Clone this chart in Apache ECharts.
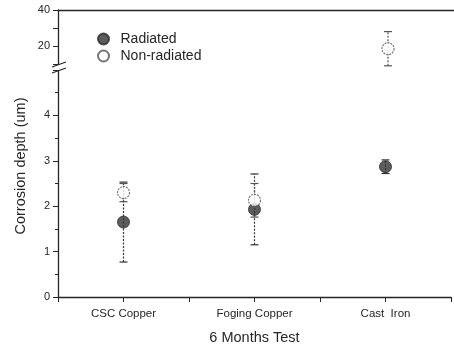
<!DOCTYPE html>
<html>
<head>
<meta charset="utf-8">
<script src="https://cdn.jsdelivr.net/npm/echarts@6/dist/echarts.min.js"></script>
<style>
  html, body { margin: 0; padding: 0; background: #fff; }
  #chart { width: 454px; height: 350px; }
</style>
</head>
<body>
<div id="chart"></div>
<script>
const categories = ['CSC Copper', 'Foging Copper', 'Cast  Iron']
const radiatedMean = [1.65, 1.93, 2.87]
const radiatedErr = [0.88, 0.78, 0.15]
const nonRadMean = [2.3, 2.13, 18.5]
const nonRadErr = [0.2, 0.37, 9.5]
const lowTicks = [0, 1, 2, 3, 4]
const highTicks = [20, 40]
const breakAt = 5

const font = 'Liberation Sans, Arial, sans-serif'
const ink = '#262626'

// split points between the lower (0-5) and upper (10-40) panels
function split(means, errs) {
  const low = [], high = []
  means.forEach((m, i) => {
    const row = [i + 1, m, m - errs[i], m + errs[i]]
    if (m > breakAt) high.push(row)
    else low.push(row)
  })
  return { low, high }
}

const rad = split(radiatedMean, radiatedErr)
const non = split(nonRadMean, nonRadErr)

function errorBars(dashed, color) {
  return (params, api) => {
    const x = api.value(0)
    const lo = api.coord([x, api.value(2)])
    const hi = api.coord([x, api.value(3)])
    const w = 4
    const style = { stroke: color, lineWidth: 1.2 }
    return {
      type: 'group',
      children: [
        { type: 'line', shape: { x1: lo[0], y1: lo[1], x2: hi[0], y2: hi[1] },
          style: Object.assign({}, style, { lineDash: dashed ? [2, 1.5] : null }) },
        { type: 'line', shape: { x1: lo[0] - w, y1: lo[1], x2: lo[0] + w, y2: lo[1] }, style },
        { type: 'line', shape: { x1: hi[0] - w, y1: hi[1], x2: hi[0] + w, y2: hi[1] }, style },
      ],
    }
  }
}

function panelSeries(idx, radData, nonData) {
  return [
    {
      type: 'custom', xAxisIndex: idx, yAxisIndex: idx, clip: false, silent: true,
      renderItem: errorBars(true, '#333'), data: radData, z: 1,
    },
    {
      type: 'custom', xAxisIndex: idx, yAxisIndex: idx, clip: false, silent: true,
      renderItem: errorBars(true, '#555'), data: nonData, z: 1,
    },
    {
      name: 'Radiated', type: 'scatter', xAxisIndex: idx, yAxisIndex: idx,
      symbol: 'circle', symbolSize: 12, z: 3,
      itemStyle: { color: '#353535', borderColor: '#2a2a2a', borderWidth: 1 },
      data: radData.map((r) => [r[0], r[1]]),
    },
    {
      name: 'Non-radiated', type: 'scatter', xAxisIndex: idx, yAxisIndex: idx,
      symbol: 'circle', symbolSize: 12, z: 4,
      itemStyle: { color: '#fff', borderColor: '#555', borderWidth: 1.2, borderType: [2, 1] },
      data: nonData.map((r) => [r[0], r[1]]),
    },
  ]
}

const chart = echarts.init(document.getElementById('chart'), null, { renderer: 'canvas' })

const axisLine = { lineStyle: { color: ink, width: 1.3 } }

chart.setOption({
  backgroundColor: '#fff',
  animation: false,
  textStyle: { fontFamily: font },
  legend: {
    orient: 'vertical', left: 92, top: 27, itemGap: 3,
    itemWidth: 24, itemHeight: 11,
    data: ['Radiated', 'Non-radiated'],
    textStyle: { fontSize: 14, color: ink, fontFamily: font },
  },
  grid: [
    { left: 58, top: 10, width: 400, height: 54 },
    { left: 58, top: 70, width: 400, height: 230 },
  ],
  xAxis: [
    {
      gridIndex: 0, type: 'value', position: 'top', min: 0.5, max: 3.5,
      axisLine: { show: true, lineStyle: { color: ink, width: 1.3 } },
      axisTick: { show: false }, axisLabel: { show: false }, splitLine: { show: false },
    },
    {
      gridIndex: 1, type: 'value', min: 0.5, max: 3.5, interval: 0.5,
      axisLine: Object.assign({ onZero: false }, axisLine),
      axisTick: { show: true, length: 5, lineStyle: { color: ink } },
      axisLabel: {
        color: ink, fontSize: 11.5, margin: 11,
        formatter: (v) => (Number.isInteger(v) ? categories[v - 1] || '' : ''),
      },
      splitLine: { show: false },
      name: '6 Months Test', nameLocation: 'middle', nameGap: 33,
      nameTextStyle: { fontSize: 14.5, color: ink, fontFamily: font },
    },
  ],
  yAxis: [
    {
      gridIndex: 0, type: 'value', min: 10, max: 40, interval: 10,
      axisLine: { show: true, lineStyle: { color: ink, width: 1.3 } },
      axisTick: { show: true, length: 5, lineStyle: { color: ink } },
      axisLabel: {
        color: ink, fontSize: 11, margin: 8,
        formatter: (v) => (highTicks.includes(v) ? String(v) : ''),
      },
      splitLine: { show: false },
    },
    {
      gridIndex: 1, type: 'value', min: 0, max: 5, interval: 1,
      axisLine: { show: true, lineStyle: { color: ink, width: 1.3 } },
      axisTick: { show: true, length: 5, lineStyle: { color: ink } },
      minorTick: { show: true, splitNumber: 2, length: 3, lineStyle: { color: ink } },
      axisLabel: {
        color: ink, fontSize: 11, margin: 8,
        formatter: (v) => (lowTicks.includes(v) ? String(v) : ''),
      },
      splitLine: { show: false },
    },
  ],
  graphic: [
    {
      type: 'text', x: 21, y: 166, rotation: Math.PI / 2,
      style: { text: 'Corrosion depth (um)', fill: ink, font: '14.5px ' + font,
        textAlign: 'center', textVerticalAlign: 'middle' },
    },
    { type: 'rect', shape: { x: 55, y: 65, width: 7, height: 5 }, style: { fill: '#fff' }, z: 100 },
    { type: 'line', shape: { x1: 52, y1: 67, x2: 66, y2: 62 }, style: { stroke: ink, lineWidth: 1.2 }, z: 101 },
    { type: 'line', shape: { x1: 52, y1: 73, x2: 66, y2: 68 }, style: { stroke: ink, lineWidth: 1.2 }, z: 101 },
  ],
  series: [...panelSeries(0, rad.high, non.high), ...panelSeries(1, rad.low, non.low)],
})
</script>
</body>
</html>
